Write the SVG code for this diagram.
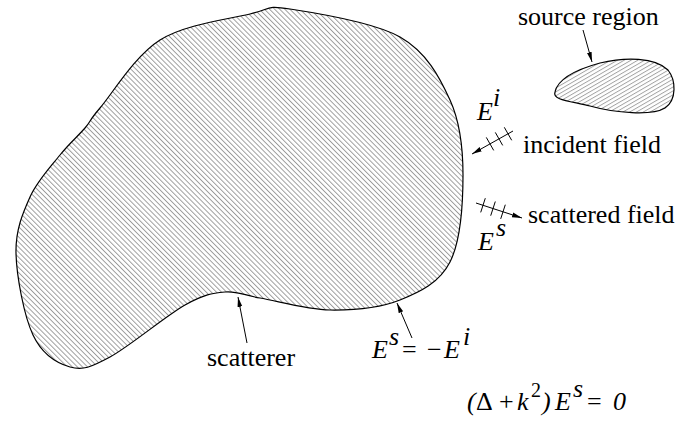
<svg xmlns="http://www.w3.org/2000/svg" width="697" height="421" viewBox="0 0 697 421">
<style>
text{font-family:'Liberation Serif','Times New Roman',serif;font-size:26px;fill:#000}
.it{font-style:italic}
.ln{stroke:#000;stroke-width:1;fill:none}
.ol{stroke:#000;stroke-width:1.2}
</style>
<defs>
<pattern id="hatchA" patternUnits="userSpaceOnUse" width="3.6" height="20" patternTransform="rotate(-45)">
<line x1="0.5" y1="0" x2="0.5" y2="20" stroke="#555" stroke-width="0.6"/>
</pattern>
<pattern id="hatchB" patternUnits="userSpaceOnUse" width="20" height="3.4" patternTransform="rotate(-30)">
<line x1="0" y1="0.5" x2="20" y2="0.5" stroke="#555" stroke-width="0.55"/>
</pattern>
<marker id="ah" markerUnits="userSpaceOnUse" markerWidth="12" markerHeight="8" refX="10" refY="4" orient="auto">
<path d="M0,1.6 L10,4 L0,6.4 Z" fill="#000"/>
</marker>
</defs>
<rect width="697" height="421" fill="#fff"/>
<g id="scatterer">
<path class="ol" fill="url(#hatchA)" d="M290,9 C315,12.8 373.3,21.8 400,37 C426.7,52.2 439.5,77 450,100 C460.5,123 463,148 463,175 C463,202 460.5,241.2 450,262 C439.5,282.8 420,292 400,300 C380,308 353.3,310.3 330,310 C306.7,309.7 277.5,301 260,298 C242.5,295 237.5,290.8 225,292 C212.5,293.2 204.2,294.2 185,305 C165.8,315.8 129.2,346.7 110,357 C90.8,367.3 82.8,370.7 70,367 C57.2,363.3 42,354 33,335 C24,316 16.5,276 16,253 C15.5,230 22.7,213.3 30,197 C37.3,180.7 50.8,166.5 60,155 C69.2,143.5 78.3,135.8 85,128 C91.7,120.2 87.5,122.7 100,108 C112.5,93.3 135,55.7 160,40 C185,24.3 228.3,19.2 250,14 C271.7,8.8 265,5.2 290,9 Z"/>
</g>
<g id="source-region">
<path class="ol" fill="url(#hatchB)" d="M555,92 C558,78 578,69 600,63 C625,57 655,57 668,70 C676,80 677,100 665,108 C652,116 615,113 590,106 C570,101 552,100 555,92 Z"/>
</g>
<g id="connectors">
<line class="ln" x1="583" y1="30" x2="592" y2="62" marker-end="url(#ah)"/>
<line class="ln" x1="247" y1="343" x2="238" y2="297" marker-end="url(#ah)"/>
<line class="ln" x1="412" y1="338" x2="397" y2="303" marker-end="url(#ah)"/>
<line class="ln" x1="513" y1="131" x2="472" y2="154" marker-end="url(#ah)"/>
<line class="ln" x1="486.3" y1="137.4" x2="493.7" y2="150.4"/>
<line class="ln" x1="495.3" y1="132.4" x2="502.7" y2="145.4"/>
<line class="ln" x1="504.3" y1="127.3" x2="511.7" y2="140.3"/>
<line class="ln" x1="476" y1="203" x2="522" y2="218" marker-end="url(#ah)"/>
<line class="ln" x1="485.3" y1="198.2" x2="480.7" y2="212.4"/>
<line class="ln" x1="495.3" y1="201.5" x2="490.7" y2="215.7"/>
<line class="ln" x1="505.3" y1="204.7" x2="500.7" y2="218.9"/>
</g>
<g id="labels">
<text x="518" y="25">source region</text>
<text class="it" x="477" y="120">E</text>
<text class="it" x="493" y="106">i</text>
<text x="523" y="153">incident field</text>
<text x="528" y="223">scattered field</text>
<text class="it" x="478" y="250">E</text>
<text class="it" x="496" y="236">s</text>
<text x="207" y="366">scatterer</text>
<text class="it" x="372" y="358">E</text>
<text class="it" x="389" y="345">s</text>
<text x="402" y="358">=</text>
<text x="427" y="358">−</text>
<text class="it" x="444" y="358">E</text>
<text class="it" x="463" y="345">i</text>
<text y="410"><tspan x="467" class="it">(</tspan><tspan x="476">Δ</tspan><tspan x="499">+</tspan><tspan x="517" class="it">k</tspan><tspan x="531" y="397" font-size="20">2</tspan><tspan x="542" y="410" class="it">)</tspan><tspan x="555" class="it">E</tspan><tspan x="573" y="397" class="it">s</tspan><tspan x="587" y="410">=</tspan><tspan x="613" class="it">0</tspan></text>
</g>
</svg>
